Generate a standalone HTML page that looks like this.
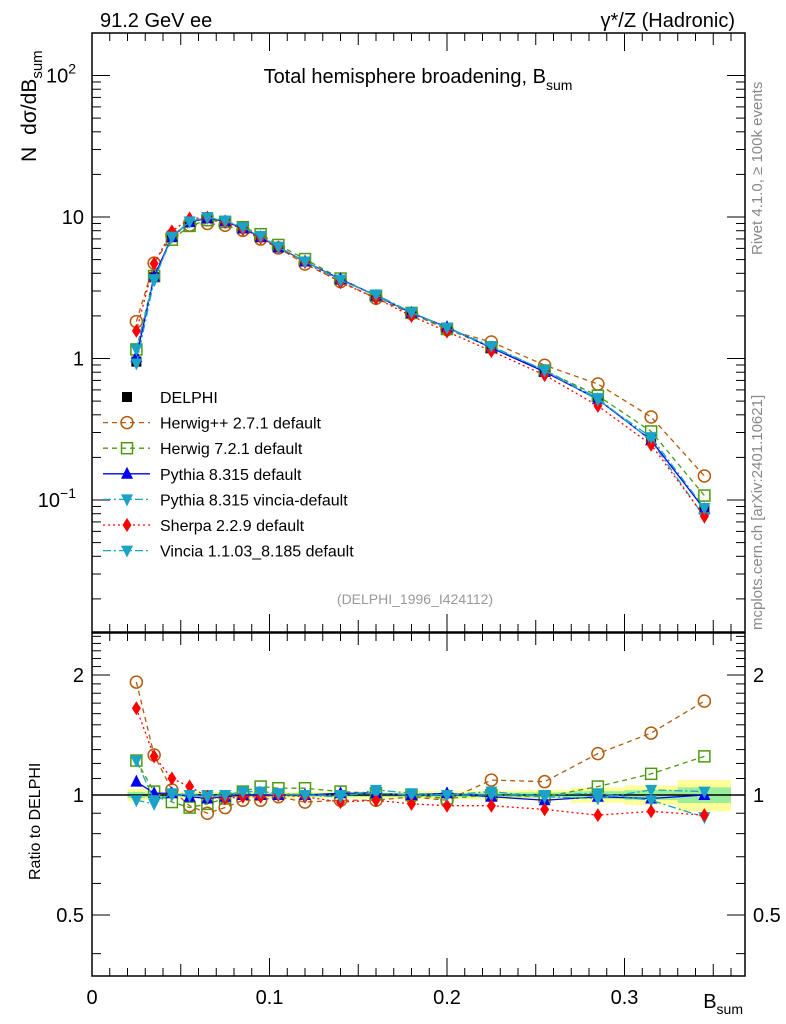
<!DOCTYPE html>
<html><head><meta charset="utf-8"><style>
html,body{margin:0;padding:0;background:#fff;}
svg{display:block;font-family:"Liberation Sans",sans-serif;}
</style></head><body>
<svg id="chart" width="786" height="1024" viewBox="0 0 786 1024">
<text x="100" y="27" font-size="20">91.2 GeV ee</text>
<text x="735" y="27" font-size="20" text-anchor="end">γ*/Z (Hadronic)</text>
<text x="418" y="83" font-size="20" text-anchor="middle">Total hemisphere broadening, B<tspan font-size="14" dy="7">sum</tspan></text>
<text transform="translate(762,255) rotate(-90)" font-size="15" fill="#888">Rivet 4.1.0, ≥ 100k events</text>
<text transform="translate(762,630) rotate(-90)" font-size="15" fill="#888">mcplots.cern.ch [arXiv:2401.10621]</text>
<text transform="translate(36,162) rotate(-90)" font-size="21">N<tspan dx="12">dσ/dB</tspan><tspan font-size="15" dy="6">sum</tspan></text>
<text transform="translate(40,880) rotate(-90)" font-size="16">Ratio to DELPHI</text>
<text x="743" y="1008" font-size="20" text-anchor="end">B<tspan font-size="14" dy="6">sum</tspan></text>
<text x="415" y="604" font-size="14" fill="#999" text-anchor="middle">(DELPHI_1996_I424112)</text>
<g id="g"></g>
</svg>
<script>
const xCenters=[0.025,0.035,0.045,0.055,0.065,0.075,0.085,0.095,0.105,0.12,0.14,0.16,0.18,0.2,0.225,0.255,0.285,0.315,0.345];
const xLo=[0.02,0.03,0.04,0.05,0.06,0.07,0.08,0.09,0.10,0.11,0.13,0.15,0.17,0.19,0.21,0.24,0.27,0.30,0.33];
const xHi=[0.03,0.04,0.05,0.06,0.07,0.08,0.09,0.10,0.11,0.13,0.15,0.17,0.19,0.21,0.24,0.27,0.30,0.33,0.36];
const dataVals=[0.95,3.75,7.2,9.3,10.0,9.4,8.3,7.2,6.1,4.85,3.6,2.75,2.1,1.65,1.2,0.83,0.52,0.27,0.086];
const dataErrRel=[0.018,0.013,0.01,0.01,0.01,0.01,0.01,0.01,0.01,0.01,0.01,0.01,0.012,0.012,0.013,0.015,0.022,0.028,0.045];
const rHerwigpp=[1.92,1.26,1.03,0.94,0.90,0.93,0.97,0.97,0.99,0.96,0.97,0.97,0.99,0.97,1.09,1.08,1.27,1.43,1.72];
const rHerwig7=[1.22,1.02,0.96,0.93,0.95,0.98,1.02,1.05,1.04,1.04,1.02,1.01,1.0,0.98,1.0,0.99,1.05,1.13,1.25];
const rPythia=[1.08,1.01,1.01,0.99,0.98,0.99,1.0,1.0,1.0,1.0,1.01,1.01,1.0,1.01,0.99,0.97,0.99,0.98,1.0];
const rPyVincia=[1.22,0.97,1.0,1.0,1.0,1.0,1.01,1.01,1.0,1.0,1.0,1.01,1.0,1.0,1.0,1.0,1.01,0.97,0.88];
const rSherpa=[1.65,1.25,1.10,1.05,0.99,0.98,0.99,0.99,1.0,0.99,0.96,0.97,0.95,0.94,0.94,0.92,0.89,0.91,0.89];
const rVincia=[0.97,0.95,1.01,1.0,0.99,1.0,1.02,1.02,1.01,1.0,0.99,1.03,1.01,1.0,1.02,0.99,0.98,1.03,1.02];
const legendLabels=["DELPHI","Herwig++ 2.7.1 default","Herwig 7.2.1 default","Pythia 8.315 default","Pythia 8.315 vincia-default","Sherpa 2.2.9 default","Vincia 1.1.03_8.185 default"];

const NS="http://www.w3.org/2000/svg";
const g=document.getElementById('g');
const X0=92,X1=745,T0=33,T1=632,R0=633,R1=976;
const xs=v=>X0+v*1775;
const ys=v=>217-141.5*Math.log10(v/10);
const rs=v=>795-120*Math.log2(v);
function el(t,a,p){const e=document.createElementNS(NS,t);for(const k in a)e.setAttribute(k,a[k]);(p||g).appendChild(e);return e;}
function marker(type,x,y,col,nm){
  let e;
  if(type==='sq')e=el('rect',{x:x-5,y:y-5,width:10,height:10,fill:'#000'});
  else if(type==='circ')e=el('circle',{cx:x,cy:y,r:6,fill:'none',stroke:col,'stroke-width':1.5});
  else if(type==='osq')e=el('rect',{x:x-5.5,y:y-5.5,width:11,height:11,fill:'none',stroke:col,'stroke-width':1.5});
  else if(type==='up')e=el('polygon',{points:`${x},${y-7} ${x-6},${y+5} ${x+6},${y+5}`,fill:col});
  else if(type==='down')e=el('polygon',{points:`${x},${y+7} ${x-6},${y-5} ${x+6},${y-5}`,fill:col});
  else if(type==='dia')e=el('polygon',{points:`${x},${y-7} ${x-4.5},${y} ${x},${y+7} ${x+4.5},${y}`,fill:col});
  
  
  return e;
}
xCenters.forEach((c,i)=>{
  const e=dataErrRel[i];
  const b1=el('rect',{x:xs(xLo[i]),y:rs(1+2*e),width:xs(xHi[i])-xs(xLo[i]),height:rs(1-2*e)-rs(1+2*e),fill:'#ffff99'});
  
  
  const b2=el('rect',{x:xs(xLo[i]),y:rs(1+e),width:xs(xHi[i])-xs(xLo[i]),height:rs(1-e)-rs(1+e),fill:'#99ee99'});
  
  
});
el('line',{x1:X0,x2:X1,y1:rs(1),y2:rs(1),stroke:'#000','stroke-width':1.5});
xCenters.forEach((c,i)=>{marker('sq',xs(c),ys(dataVals[i]),'#000','data-point-delphi');});
const series=[
 {r:rHerwigpp,col:'#b35c0e',type:'circ',dash:'5,4',name:'herwigpp'},
 {r:rHerwig7,col:'#4c9a10',type:'osq',dash:'5,4',name:'herwig7'},
 {r:rPythia,col:'#0000ee',type:'up',dash:'',name:'pythia'},
 {r:rPyVincia,col:'#1ba2c8',type:'down',dash:'8,3,2,3',name:'pythia-vincia'},
 {r:rSherpa,col:'#ff0000',type:'dia',dash:'2,3',name:'sherpa'},
 {r:rVincia,col:'#1ba2c8',type:'down',dash:'8,3,2,3',name:'vincia'}];
series.forEach(s=>{
  const pm=xCenters.map((c,i)=>xs(c)+','+ys(dataVals[i]*s.r[i])).join(' ');
  const l1=el('polyline',{points:pm,fill:'none',stroke:s.col,'stroke-width':1.3,'stroke-dasharray':s.dash});
  
  
  const pr=xCenters.map((c,i)=>xs(c)+','+rs(s.r[i])).join(' ');
  const l2=el('polyline',{points:pr,fill:'none',stroke:s.col,'stroke-width':1.3,'stroke-dasharray':s.dash});
  
  
  xCenters.forEach((c,i)=>{
    marker(s.type,xs(c),ys(dataVals[i]*s.r[i]),s.col,s.name+'-point');
    marker(s.type,xs(c),rs(s.r[i]),s.col,s.name+'-ratio-point');
  });
});
const f1=el('rect',{x:X0,y:T0,width:X1-X0,height:T1-T0,fill:'none',stroke:'#000','stroke-width':1.5});


const f2=el('rect',{x:X0,y:R0,width:X1-X0,height:R1-R0,fill:'none',stroke:'#000','stroke-width':1.5});


for(let k=0;k<=36;k++){
  const v=k/100,x=xs(v),L=(k%10===0)?18:(k%5===0?12:8);
  el('line',{x1:x,x2:x,y1:R1,y2:R1-L,stroke:'#000'});
  el('line',{x1:x,x2:x,y1:R0,y2:R0+L,stroke:'#000'});
  el('line',{x1:x,x2:x,y1:T1,y2:T1-L,stroke:'#000'});
  el('line',{x1:x,x2:x,y1:T0,y2:T0+L,stroke:'#000'});
}
const xTickLabels=['0','0.1','0.2','0.3'];
xTickLabels.forEach((t,i)=>{
  const e=el('text',{x:xs(i*0.1),y:1004,'font-size':20,'text-anchor':'middle'});e.textContent=t;
  
  
});
for(let d=-2;d<=2;d++)for(let m=1;m<=9;m++){
  const v=m*Math.pow(10,d),y=ys(v);
  if(y<T0||y>T1)continue;
  const L=m===1?18:9;
  el('line',{x1:X0,x2:X0+L,y1:y,y2:y,stroke:'#000'});
  el('line',{x1:X1,x2:X1-L,y1:y,y2:y,stroke:'#000'});
}
const yLabs=[[100,'10','2'],[10,'10',''],[1,'1',''],[0.1,'10','−1']];
yLabs.forEach(a=>{
  const e=el('text',{x:a[2]?76:84,y:ys(a[0])+7,'font-size':20,'text-anchor':'end'});
  e.textContent=a[1];
  if(a[2]){const t=el('tspan',{dy:-9,'font-size':14},e);t.textContent=a[2];}
  
  
});
for(let k=4;k<=25;k++){
  const v=k/10,y=rs(v);if(y<R0||y>R1)continue;
  const L=(k===5||k===10||k===20)?18:9;
  el('line',{x1:X0,x2:X0+L,y1:y,y2:y,stroke:'#000'});
  el('line',{x1:X1,x2:X1-L,y1:y,y2:y,stroke:'#000'});
}
const rLabs=[[2,'2'],[1,'1'],[0.5,'0.5']];
rLabs.forEach(a=>{
  const e=el('text',{x:84,y:rs(a[0])+7,'font-size':20,'text-anchor':'end'});e.textContent=a[1];
  
  
  const e2=el('text',{x:753,y:rs(a[0])+7,'font-size':20});e2.textContent=a[1];
  
  
});
const legTypes=['sq','circ','osq','up','down','dia','down'];
const legCols=['#000','#b35c0e','#4c9a10','#0000ee','#1ba2c8','#ff0000','#1ba2c8'];
const legDash=[null,'5,4','5,4','','8,3,2,3','2,3','8,3,2,3'];
legendLabels.forEach((t,i)=>{
  const y=397+i*25.6;
  if(legDash[i]!==null){el('line',{x1:103,x2:150,y1:y,y2:y,stroke:legCols[i],'stroke-width':1.3,'stroke-dasharray':legDash[i]});}
  marker(legTypes[i],127,y,legCols[i],'legend-marker');
  const e=el('text',{x:160,y:y+6,'font-size':16});e.textContent=t;
  
  
});
</script>
</body></html>
